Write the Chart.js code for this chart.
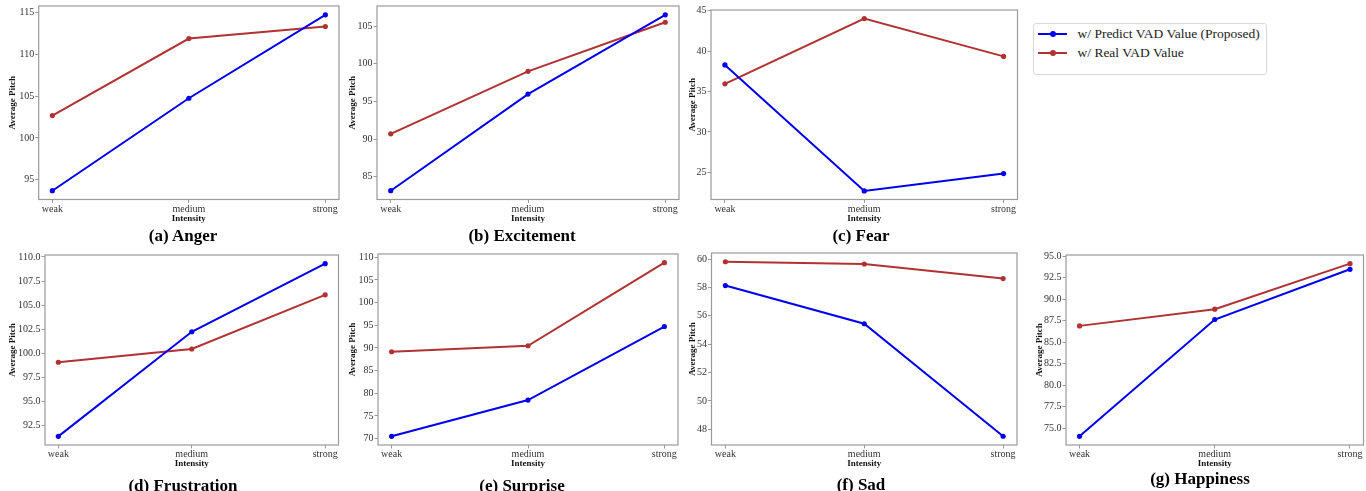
<!DOCTYPE html>
<html><head><meta charset="utf-8">
<script src="https://cdn.jsdelivr.net/npm/chart.js@4.4.1/dist/chart.umd.min.js"></script>
<style>
html,body{margin:0;padding:0;background:#fff;width:1366px;height:491px;overflow:hidden;position:relative;}
.panel{position:absolute;}
.cap{position:absolute;font-family:"Liberation Serif","Times New Roman",serif;font-weight:bold;font-size:17px;color:#000;transform:translate(-50%,-50%);white-space:nowrap;line-height:1;}
.legbox{position:absolute;left:1033px;top:23px;width:232px;height:50px;border:1px solid #d9d9d9;border-radius:3px;background:#fff;}
.legline{position:absolute;height:2px;width:29px;}
.legdot{position:absolute;width:6px;height:6px;border-radius:50%;}
.legtext{position:absolute;font-family:"Liberation Serif","Times New Roman",serif;font-size:13.5px;color:#222;white-space:nowrap;transform:translateY(-50%);line-height:1;}
</style></head><body>
<div id="root"></div>
<script>
// ---- data ----
const categories = ['weak', 'medium', 'strong'];
const seriesNames = ['w/ Predict VAD Value (Proposed)', 'w/ Real VAD Value'];
const captions = ['(a) Anger', '(b) Excitement', '(c) Fear', '(d) Frustration', '(e) Surprise', '(f) Sad', '(g) Happiness'];
const xAxisTitle = 'Intensity';
const yAxisTitle = 'Average Pitch';

const angerPredict = [93.7, 104.74, 114.7];
const angerReal = [102.67, 111.86, 113.3];
const excitementPredict = [83.13, 95.98, 106.52];
const excitementReal = [90.69, 99.0, 105.53];
const fearPredict = [38.3, 22.7, 24.85];
const fearReal = [35.96, 44.04, 39.36];
const frustrationPredict = [91.36, 102.23, 109.31];
const frustrationReal = [99.06, 100.44, 106.07];
const surprisePredict = [70.5, 78.5, 94.72];
const surpriseReal = [89.15, 90.48, 108.8];
const sadPredict = [58.13, 55.44, 47.51];
const sadReal = [59.81, 59.65, 58.62];
const happinessPredict = [74.03, 87.64, 93.49];
const happinessReal = [86.9, 88.84, 94.15];

const angerTicks = [95, 100, 105, 110, 115];
const excitementTicks = [85, 90, 95, 100, 105];
const fearTicks = [25, 30, 35, 40, 45];
const frustrationTicks = [92.5, 95, 97.5, 100, 102.5, 105, 107.5, 110];
const surpriseTicks = [70, 75, 80, 85, 90, 95, 100, 105, 110];
const sadTicks = [48, 50, 52, 54, 56, 58, 60];
const happinessTicks = [75, 77.5, 80, 82.5, 85, 87.5, 90, 92.5, 95];

// ---- layout (positions only) ----
const panelLayout = [
  {originX: 0,    frame: [38.7, 5.7, 339, 199.5],   cap: [183, 235], ytPad: 7.6},
  {originX: 340,  frame: [377, 5.7, 679, 199.5],    cap: [522, 235], ytPad: 7.6},
  {originX: 680,  frame: [711, 9.3, 1017.5, 199.5], cap: [861, 235], ytPad: 7.3},
  {originX: 0,    frame: [45, 254.3, 338.5, 445],   cap: [183, 485], ytPad: 7.6},
  {originX: 340,  frame: [378, 253.5, 678, 445],    cap: [522, 485], ytPad: 7.6},
  {originX: 680,  frame: [711.5, 252.5, 1017, 445], cap: [861, 484], ytPad: 7.3},
  {originX: 1020, frame: [1066, 254.3, 1363.5, 445], cap: [1200, 478], ytPad: 14.6}
];

const panelData = [
  [angerPredict, angerReal, angerTicks],
  [excitementPredict, excitementReal, excitementTicks],
  [fearPredict, fearReal, fearTicks],
  [frustrationPredict, frustrationReal, frustrationTicks],
  [surprisePredict, surpriseReal, surpriseTicks],
  [sadPredict, sadReal, sadTicks],
  [happinessPredict, happinessReal, happinessTicks]
];

const BLUE = '#0000f0';
const RED = '#b03232';
const FRAME = '#9a9a9a';
const SERIF = "'Liberation Serif', 'Times New Roman', serif";

const framePlugin = {
  id: 'frame',
  afterDraw(chart) {
    const {ctx, chartArea: a} = chart;
    ctx.save();
    ctx.strokeStyle = FRAME;
    ctx.lineWidth = 1.2;
    ctx.strokeRect(a.left, a.top, a.right - a.left, a.bottom - a.top);
    ctx.restore();
  }
};

const root = document.getElementById('root');

panelLayout.forEach((lay, idx) => {
  const [pred, real, yTicks] = panelData[idx];
  const [L, T, R, B] = lay.frame;
  const contLeft = lay.originX;
  const contTop = Math.floor(T) - 6;
  const contRight = Math.ceil(R) + 10;
  const bottomEdge = Math.ceil(B) + 26;
  const width = contRight - contLeft;
  const height = bottomEdge - contTop;
  const yW = L - contLeft;
  const xH = bottomEdge - B;
  const padTop = T - contTop;
  const padRight = contRight - R;

  const all = pred.concat(real);
  const dmin = Math.min(...all), dmax = Math.max(...all);
  const m = (dmax - dmin) * 0.05;
  const decimals = yTicks.some(v => Math.abs(v - Math.round(v)) > 1e-9) ? 1 : 0;

  const div = document.createElement('div');
  div.className = 'panel';
  div.style.left = contLeft + 'px';
  div.style.top = contTop + 'px';
  div.style.width = width + 'px';
  div.style.height = height + 'px';
  const canvas = document.createElement('canvas');
  canvas.width = width; canvas.height = height;
  canvas.style.width = width + 'px'; canvas.style.height = height + 'px';
  div.appendChild(canvas);
  root.appendChild(div);

  const cap = document.createElement('div');
  cap.className = 'cap';
  cap.textContent = captions[idx];
  cap.style.left = lay.cap[0] + 'px';
  cap.style.top = lay.cap[1] + 'px';
  root.appendChild(cap);

  const mk = (vals, color, label) => ({
    label: label,
    data: vals.map((v, i) => ({x: i, y: v})),
    borderColor: color,
    backgroundColor: color,
    borderWidth: 2,
    pointRadius: 2.6,
    pointBorderWidth: 0,
    pointBackgroundColor: color,
    tension: 0,
    clip: false
  });

  new Chart(canvas, {
    type: 'line',
    data: {datasets: [mk(pred, BLUE, seriesNames[0]), mk(real, RED, seriesNames[1])]},
    options: {
      responsive: false,
      animation: false,
      devicePixelRatio: 1,
      layout: {padding: {left: 0, top: padTop, right: padRight, bottom: 0}},
      plugins: {legend: {display: false}, tooltip: {enabled: false}},
      scales: {
        x: {
          type: 'linear', min: -0.1, max: 2.1,
          afterBuildTicks: s => { s.ticks = categories.map((c, i) => ({value: i})); },
          afterFit: s => { s.height = xH; },
          border: {display: false},
          grid: {display: true, drawOnChartArea: false, drawTicks: true, tickLength: 3.5, tickColor: FRAME, tickWidth: 1},
          ticks: {
            callback: v => categories[v],
            font: {family: SERIF, size: 10},
            color: '#333',
            padding: 0,
            maxRotation: 0, autoSkip: false
          },
          title: {display: true, text: xAxisTitle, font: {family: SERIF, size: 9, weight: 'bold'}, color: '#111',
                  padding: {top: 0, bottom: xH - 18.7 - 5.4}}
        },
        y: {
          type: 'linear', min: dmin - m, max: dmax + m,
          afterBuildTicks: s => { s.ticks = yTicks.map(v => ({value: v})); },
          afterFit: s => { s.width = yW; },
          border: {display: false},
          grid: {display: true, drawOnChartArea: false, drawTicks: true, tickLength: 3.5, tickColor: FRAME, tickWidth: 1},
          ticks: {
            callback: v => Number(v).toFixed(decimals),
            font: {family: SERIF, size: 10},
            color: '#333',
            padding: 1,
            autoSkip: false
          },
          title: {display: true, text: yAxisTitle, font: {family: SERIF, size: 9, weight: 'bold'}, color: '#111',
                  padding: {top: lay.ytPad, bottom: 0}}
        }
      }
    },
    plugins: [framePlugin]
  });
});

// ---- legend ----
const legendColors = [BLUE, RED];
const legendRows = [33.5, 52.5];
const box = document.createElement('div');
box.className = 'legbox';
document.body.appendChild(box);
seriesNames.forEach((name, i) => {
  const y = legendRows[i];
  const ln = document.createElement('div');
  ln.className = 'legline';
  ln.style.left = '1038px'; ln.style.top = (y - 1) + 'px'; ln.style.background = legendColors[i];
  document.body.appendChild(ln);
  const dot = document.createElement('div');
  dot.className = 'legdot';
  dot.style.left = '1049.5px'; dot.style.top = (y - 3) + 'px'; dot.style.background = legendColors[i];
  document.body.appendChild(dot);
  const tx = document.createElement('div');
  tx.className = 'legtext';
  tx.textContent = name;
  tx.style.left = '1077.5px'; tx.style.top = y + 'px';
  document.body.appendChild(tx);
});
</script>
</body></html>
